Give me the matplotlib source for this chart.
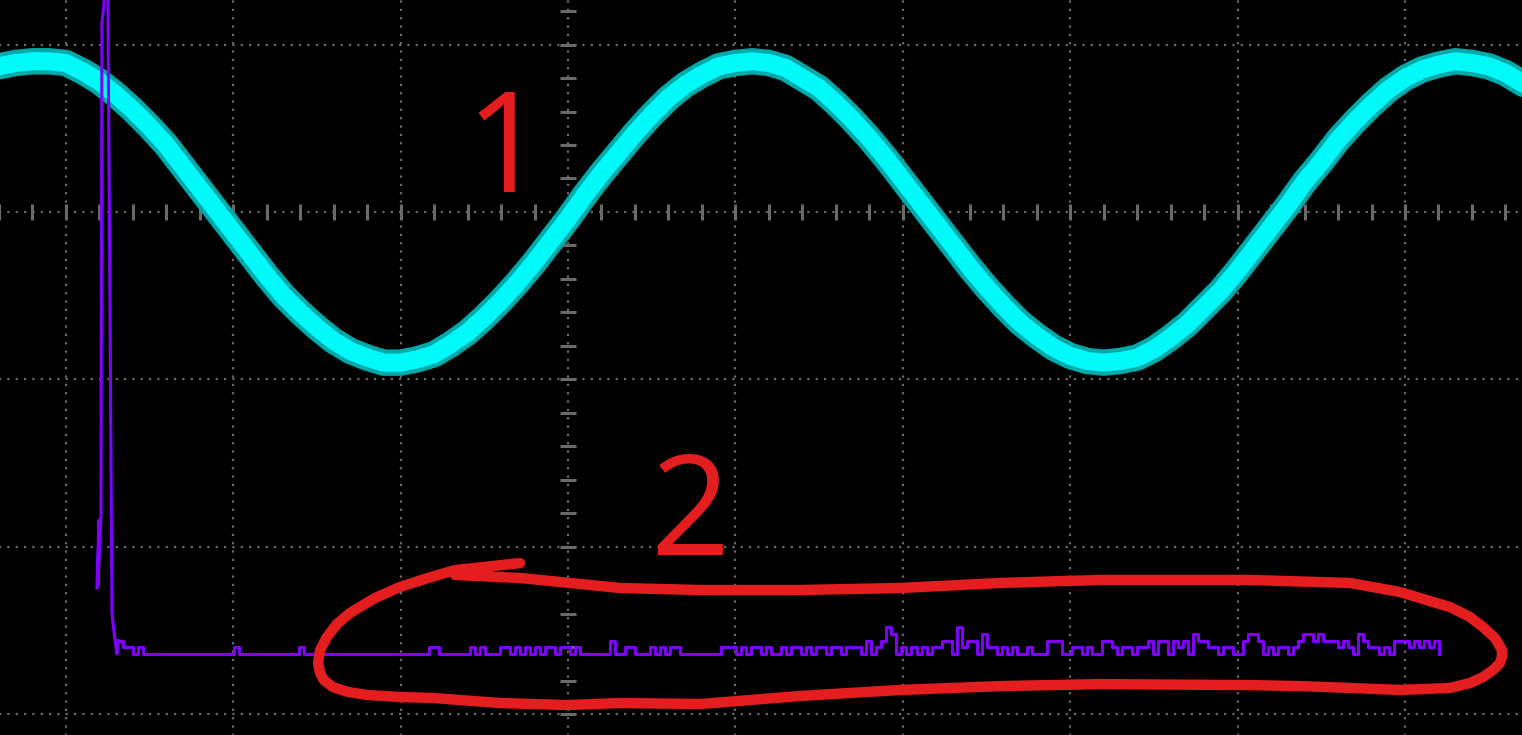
import numpy as np
import matplotlib
matplotlib.use("Agg")
import matplotlib.pyplot as plt

plt.rcParams["lines.scale_dashes"] = False

# screen is measured in divisions (0,0 = centre of graticule)
grid_x = [-3, -2, -1, 0, 1, 2, 3, 4, 5]
grid_y = [1, 0, -1, -2, -3]

# channel 1 (cyan), one value every 0.1 div
cyan_x = np.round(np.arange(-3.4, 5.85, 0.1), 1)
cyan_y = [0.87, 0.89, 0.90, 0.90, 0.89, 0.84, 0.78, 0.70, 0.61, 0.51, 0.40,
          0.27, 0.14, 0.01, -0.12, -0.25, -0.38, -0.50, -0.60, -0.69, -0.77,
          -0.83, -0.87, -0.90, -0.90, -0.88, -0.85, -0.79, -0.72, -0.63, -0.53,
          -0.42, -0.30, -0.17, -0.04, 0.10, 0.23, 0.35, 0.47, 0.58, 0.68,
          0.76, 0.82, 0.87, 0.89, 0.90, 0.89, 0.86, 0.80, 0.74, 0.65, 0.55,
          0.44, 0.32, 0.19, 0.06, -0.07, -0.20, -0.33, -0.45, -0.56, -0.66,
          -0.74, -0.81, -0.86, -0.89, -0.90, -0.89, -0.87, -0.82, -0.75, -0.67,
          -0.57, -0.47, -0.35, -0.22, -0.09, 0.04, 0.18, 0.30, 0.43, 0.54,
          0.64, 0.73, 0.80, 0.85, 0.88, 0.90, 0.89, 0.87, 0.83, 0.77, 0.69]

# channel 2 (purple): pulse at the left edge, then a noisy baseline
spike_x = [-2.814, -2.802, -2.808, -2.790, -2.784, -2.772, -2.766, -2.748,
           -2.748, -2.736, -2.724, -2.718, -2.706, -2.694]
spike_y = [-2.246, -1.840, -2.228, -1.810, 1.135, 1.237, 1.864, 1.864,
           1.147, -0.526, -2.395, -2.455, -2.557, -2.640]
base_y = -2.640
noise_x0, noise_dx, noise_unit = -2.688, 0.03, 0.04
noise_levels = "".join([
    "21101", "00000000000000000", "01", "000000000000", "1",
    "0000000000000000000000000", "11", "000000", "101000", "110101010",
    "1101101", "000000", "200", "110",
    "0010101100", "0000001110", "1011010010", "110101101101",
    "1102012430", "10", "101011", "22", "04", "1", "22", "0", "31", "10101",
    "00100", "02", "220", "0110", "100", "2210", "110112", "0220", "2120",
    "3221", "10110", "02", "3320", "101101", "2332322", "2121", "03", "21",
    "1010", "222", "121212",
])

# hand-drawn loop around the noise
loop_x = [-0.675, -0.287, 0.311, 0.789, 1.386, 1.983, 2.581, 3.178, 4.074,
          4.671, 4.970, 5.269, 5.388, 5.466, 5.538, 5.579, 5.579, 5.567,
          5.526, 5.466, 5.388, 5.269, 4.970, 4.671, 4.373, 4.074, 3.178,
          2.581, 1.983, 1.386, 0.789, 0.311, -0.006, -0.406, -0.806, -1.004,
          -1.201, -1.314, -1.404, -1.458, -1.481, -1.493, -1.481, -1.440,
          -1.380, -1.302, -1.153, -1.004, -0.836, -0.675, -0.287]
loop_y = [-2.168, -2.186, -2.246, -2.258, -2.258, -2.246, -2.216, -2.198,
          -2.198, -2.216, -2.270, -2.360, -2.419, -2.479, -2.545, -2.616,
          -2.658, -2.694, -2.736, -2.778, -2.814, -2.843, -2.855, -2.843,
          -2.832, -2.826, -2.820, -2.832, -2.855, -2.891, -2.939, -2.933,
          -2.945, -2.933, -2.903, -2.897, -2.885, -2.867, -2.838, -2.796,
          -2.754, -2.694, -2.616, -2.539, -2.461, -2.395, -2.306, -2.240,
          -2.186, -2.139, -2.097]
labels = ["1", "2"]
label_x = [-0.376, 0.729]
label_y = [0.119, -2.049]

RED = "#e41e1e"
GRID = "#6a6a6a"

fig = plt.figure(figsize=(15.22, 7.35), dpi=100, facecolor="black")
ax = fig.add_axes([0, 0, 1, 1])
ax.set_xlim(-3.393, 5.699)
ax.set_ylim(-3.124, 1.266)
ax.set_axis_off()

# graticule
for gx in grid_x:
    ax.plot([gx, gx], [-3.2, 1.3], color=GRID, lw=1.6, ls=(0, (1.6, 4.4)), zorder=1)
for gy in grid_y:
    ax.plot([-3.5, 5.8], [gy, gy], color=GRID, lw=1.6, ls=(0, (1.6, 4.4)), zorder=1)
minor_x = np.arange(-3.4, 5.81, 0.2)
minor_y = np.arange(-3.2, 1.31, 0.2)
ax.plot(minor_x, np.zeros_like(minor_x), ls="none", marker="|", ms=11,
        mew=2.2, color=GRID, zorder=1)
ax.plot(np.zeros_like(minor_y), minor_y, ls="none", marker="_", ms=12,
        mew=2.2, color=GRID, zorder=1)

# channel 1
ax.plot(cyan_x, cyan_y, color="#00a9a9", lw=19, solid_capstyle="round",
        solid_joinstyle="round", zorder=2)
ax.plot(cyan_x, cyan_y, color="#00fafa", lw=13, solid_capstyle="round",
        solid_joinstyle="round", zorder=2)

# channel 2
levels = np.array([int(c) for c in noise_levels])
nx = noise_x0 + noise_dx * np.arange(len(levels) + 1)
ny = base_y + noise_unit * np.append(levels, 0)
ax.plot(np.append(spike_x, nx[0]), np.append(spike_y, ny[0]), color="#7f00ff",
        lw=2.2, zorder=3)
ax.plot(nx, ny, color="#7f00ff", lw=2.2, drawstyle="steps-post", zorder=3)

# annotations
ax.plot(loop_x, loop_y, color=RED, lw=7.5, solid_capstyle="round",
        solid_joinstyle="round", zorder=4)
for t, x, y in zip(labels, label_x, label_y):
    ax.text(x, y, t, color=RED, fontsize=100, family="Open Sans",
            ha="center", va="baseline", zorder=4)

fig.savefig("out.png", dpi=100, facecolor="black")
